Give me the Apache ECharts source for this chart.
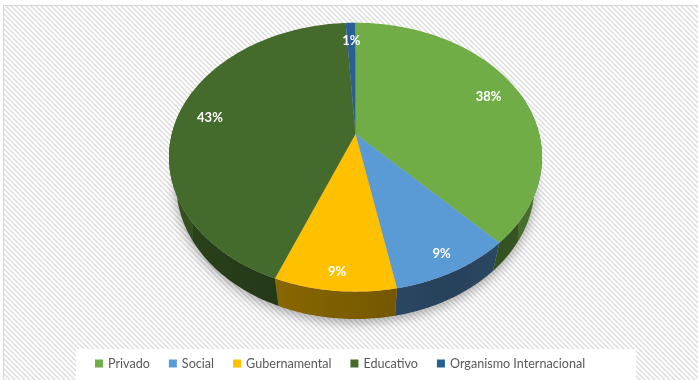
<!DOCTYPE html>
<html>
<head>
<meta charset="utf-8">
<script src="https://cdn.jsdelivr.net/npm/echarts@6/dist/echarts.min.js"></script>
<style>
  html, body { margin: 0; padding: 0; background: #ffffff; }
  #chart { width: 698px; height: 380px; }
</style>
</head>
<body>
<div id="chart"></div>
<script>
// Sector de procedencia (porcentaje)
const categories = ['Privado', 'Social', 'Gubernamental', 'Educativo', 'Organismo Internacional'];
const shares = [38, 9, 9, 43, 1];
const sliceColors = ['#70AD47', '#5B9BD5', '#FFC000', '#446A2C', '#2A5F94'];

const total = shares.reduce((a, b) => a + b, 0);

// Geometry of the tilted pie (radius-normalised camera model)
const PIE = {
  cx: 355.5, cy: 134,      // screen position of the pie centre
  focal: 749.6,            // focal length in px per unit radius
  dist: 4.08,              // camera distance in radii
  tiltSin: 0.710, tiltCos: 0.704,
  depth: 0.233             // thickness of the disc in radii
};

// Angle measured clockwise from 12 o'clock; h = height (0 = top face)
function project(theta, r, h) {
  const u = r * Math.sin(theta);
  const v = -r * Math.cos(theta);
  const z = PIE.dist - v * PIE.tiltCos - h * PIE.tiltSin;
  const ys = v * PIE.tiltSin - h * PIE.tiltCos;
  return [PIE.cx + PIE.focal * u / z, PIE.cy + PIE.focal * ys / z];
}

// The side wall faces the viewer between these two angles
const silhouette = Math.acos(1 / (PIE.dist * PIE.tiltCos));
const wallStart = silhouette;
const wallEnd = 2 * Math.PI - silhouette;

function arcPoints(a0, a1, r, h) {
  const n = Math.max(2, Math.ceil(Math.abs(a1 - a0) / (Math.PI / 180)));
  const pts = [];
  for (let k = 0; k <= n; k++) {
    pts.push(project(a0 + (a1 - a0) * k / n, r, h));
  }
  return pts;
}

function shade(hex, k) {
  const n = parseInt(hex.slice(1), 16);
  const r = Math.round(((n >> 16) & 255) * k);
  const g = Math.round(((n >> 8) & 255) * k);
  const b = Math.round((n & 255) * k);
  return 'rgb(' + r + ',' + g + ',' + b + ')';
}

// Side lighting: darkest around the lower right
function wallLight(theta) {
  const deg = theta * 180 / Math.PI;
  return 0.42 + 0.2 * Math.abs(deg - 155) / 80;
}

function renderSlice(index, value) {
  let before = 0;
  for (let j = 0; j < index; j++) before += shares[j];
  const a0 = before / total * 2 * Math.PI;
  const a1 = (before + value) / total * 2 * Math.PI;
  const color = sliceColors[index];
  const children = [];

  // outer wall (only the part turned towards the viewer)
  const w0 = Math.max(a0, wallStart);
  const w1 = Math.min(a1, wallEnd);
  if (w1 > w0) {
    const topEdge = arcPoints(w0, w1, 1, 0);
    const bottomEdge = arcPoints(w1, w0, 1, -PIE.depth);
    const x0 = project(w0, 1, 0)[0];
    const x1 = project(w1, 1, 0)[0];
    const stops = [];
    const steps = 8;
    for (let k = 0; k <= steps; k++) {
      const t = w0 + (w1 - w0) * k / steps;
      const x = project(t, 1, 0)[0];
      const off = Math.abs(x1 - x0) < 0.5 ? k / steps : (x - x0) / (x1 - x0);
      stops.push({ offset: Math.min(1, Math.max(0, off)), color: shade(color, wallLight(t)) });
    }
    stops.sort((p, q) => p.offset - q.offset);
    children.push({
      type: 'polygon',
      z2: 1,
      shape: { points: topEdge.concat(bottomEdge) },
      style: {
        fill: { type: 'linear', x: x0, y: 0, x2: x1, y2: 0, global: true, colorStops: stops }
      }
    });
  }

  // top face
  children.push({
    type: 'polygon',
    z2: 10,
    shape: { points: [project(0, 0, 0)].concat(arcPoints(a0, a1, 1, 0)) },
    style: { fill: color }
  });

  // percentage label
  const mid = (a0 + a1) / 2;
  const lr = 0.82 + 0.08 * Math.max(0, -Math.cos(mid));
  const p = project(mid, lr, 0);
  children.push({
    type: 'text',
    z2: 20,
    x: p[0], y: p[1],
    style: {
      text: Math.round(value / total * 100) + '%',
      fill: '#ffffff',
      font: 'bold 13px Lato, "Open Sans", sans-serif',
      align: 'center',
      verticalAlign: 'middle'
    }
  });

  return { type: 'group', children };
}

// Diagonal hatch for the chart area
function hatchTile() {
  const p = 5;
  const c = document.createElement('canvas');
  c.width = p; c.height = p;
  const ctx = c.getContext('2d');
  ctx.fillStyle = '#ffffff';
  ctx.fillRect(0, 0, p, p);
  ctx.strokeStyle = '#dddddd';
  ctx.lineWidth = 1.5;
  for (const k of [-p, 0, p]) {
    ctx.beginPath();
    ctx.moveTo(k - 1, -1);
    ctx.lineTo(k + p + 1, p + 1);
    ctx.stroke();
  }
  return c;
}

const chart = echarts.init(document.getElementById('chart'), null, { renderer: 'canvas' });

const sliceSeries = categories.map((name, i) => ({
  type: 'custom',
  name: name,
  coordinateSystem: 'none',
  silent: true,
  animation: false,
  itemStyle: { color: sliceColors[i] },
  data: [[shares[i]]],
  renderItem: (params, api) => renderSlice(i, api.value(0))
}));

// soft shadow beneath the disc
const shadowSeries = {
  type: 'custom',
  name: 'sombra',
  coordinateSystem: 'none',
  silent: true,
  animation: false,
  data: [[total]],
  renderItem: () => ({
    type: 'polygon',
    z2: 0,
    shape: { points: arcPoints(0, 2 * Math.PI, 1, -PIE.depth) },
    style: {
      fill: '#b8b8b8',
      shadowBlur: 12,
      shadowOffsetY: 3,
      shadowColor: 'rgba(0,0,0,0.35)'
    }
  })
};

chart.setOption({
  backgroundColor: '#ffffff',
  animation: false,
  graphic: [
    {
      type: 'rect', z: 0, silent: true,
      shape: { x: 3.5, y: 5.5, width: 760, height: 420 },
      style: { fill: { image: hatchTile(), repeat: 'repeat' }, stroke: '#d6d6d6', lineWidth: 1 }
    },
    {
      type: 'rect', z: 1, silent: true,
      shape: { x: 76, y: 349, width: 560, height: 40 },
      style: { fill: '#ffffff' }
    }
  ],
  legend: {
    data: categories,
    left: 95,
    top: 357,
    padding: 0,
    icon: 'rect',
    itemWidth: 8,
    itemHeight: 8,
    itemGap: 19,
    selectedMode: false,
    textStyle: { color: '#595959', fontSize: 12.6, fontFamily: 'Lato, "Open Sans", sans-serif' }
  },
  series: [shadowSeries].concat(sliceSeries)
});
</script>
</body>
</html>
